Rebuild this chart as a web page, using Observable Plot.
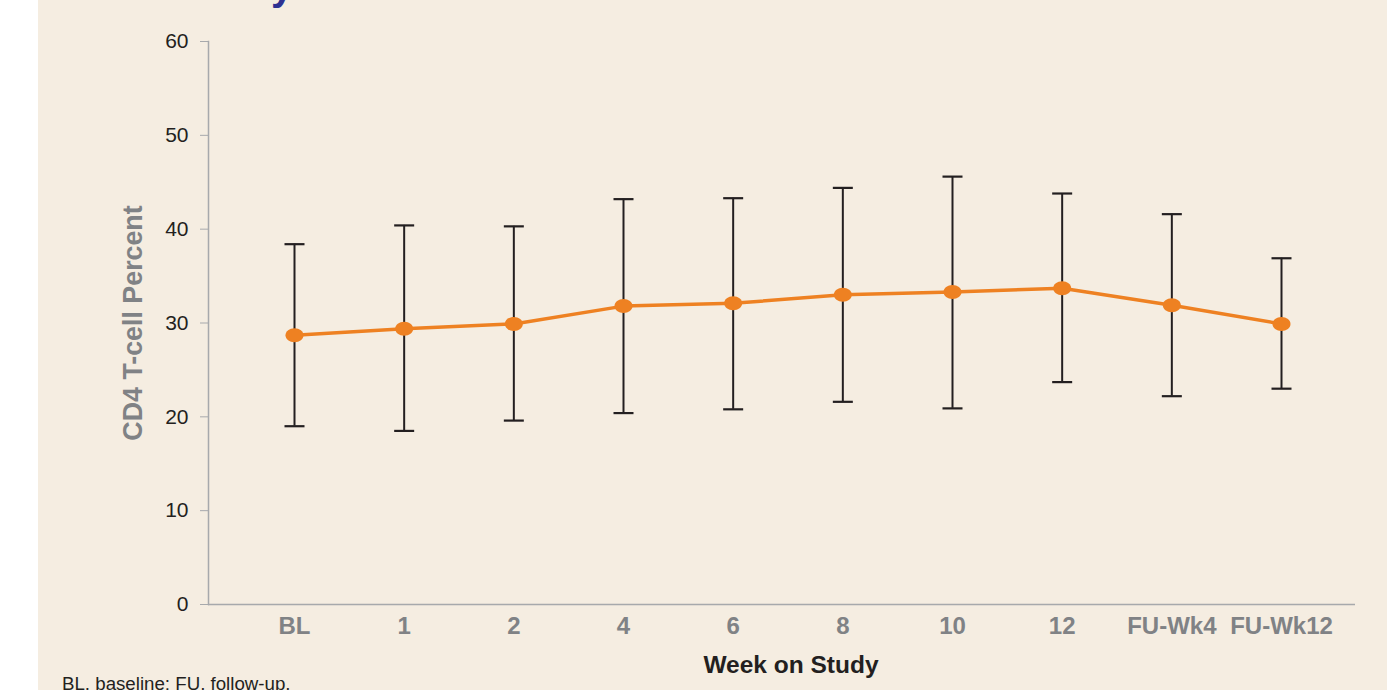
<!DOCTYPE html>
<html>
<head>
<meta charset="utf-8">
<script src="https://cdn.jsdelivr.net/npm/d3@7"></script>
<script src="https://cdn.jsdelivr.net/npm/@observablehq/plot@0.6"></script>
<style>
  html, body { margin: 0; padding: 0; background: #ffffff; overflow: hidden; width: 1387px; height: 690px; }
  #panel { position: absolute; left: 38px; top: 0; width: 1349px; height: 690px; background: #F5EDE1; }
  #title { position: absolute; left: 271px; top: -34px; font: bold 40px "Liberation Sans", Arial, sans-serif; line-height: 40px; color: #2E3192; white-space: nowrap; }
  #chart { position: absolute; left: 0; top: 0; }
  #caption { position: absolute; left: 62px; top: 673px; font: 18.7px "Liberation Sans", Arial, sans-serif; color: #231F20; white-space: nowrap; }
</style>
</head>
<body>
<div id="panel"></div>
<div id="title">y</div>
<div id="chart"></div>
<div id="caption">BL, baseline; FU, follow-up.</div>
<script>
const weeks = ["BL", "1", "2", "4", "6", "8", "10", "12", "FU-Wk4", "FU-Wk12"];
const meanPct = [28.7, 29.4, 29.9, 31.8, 32.1, 33.0, 33.3, 33.7, 31.9, 29.9];
const upperPct = [38.4, 40.4, 40.3, 43.2, 43.3, 44.4, 45.6, 43.8, 41.6, 36.9];
const lowerPct = [19.0, 18.5, 19.6, 20.4, 20.8, 21.6, 20.9, 23.7, 22.2, 23.0];
const yTicks = [0, 10, 20, 30, 40, 50, 60];

const data = weeks.map((w, i) => ({week: w, mean: meanPct[i], upper: upperPct[i], lower: lowerPct[i]}));

const capSymbol = {
  draw(ctx) { ctx.moveTo(-10, 0); ctx.lineTo(10, 0); }
};
const ellipseSymbol = {
  draw(ctx) {
    const a = 9, b = 7, k = 0.5523;
    ctx.moveTo(a, 0);
    ctx.bezierCurveTo(a, b * k, a * k, b, 0, b);
    ctx.bezierCurveTo(-a * k, b, -a, b * k, -a, 0);
    ctx.bezierCurveTo(-a, -b * k, -a * k, -b, 0, -b);
    ctx.bezierCurveTo(a * k, -b, a, -b * k, a, 0);
    ctx.closePath();
  }
};

const font = '"Liberation Sans", Arial, sans-serif';

const chart = Plot.plot({
  width: 1387,
  height: 690,
  marginTop: 41,
  marginBottom: 86,
  marginLeft: 208,
  marginRight: 32,
  style: {background: "transparent", fontFamily: font},
  x: {type: "point", domain: weeks, range: [294, 1281], padding: 0, round: false},
  y: {domain: [0, 60]},
  marks: [
    Plot.frame({anchor: "left", stroke: "#A7A9AC", strokeWidth: 1.5}),
    Plot.ruleY([0], {stroke: "#A7A9AC", strokeWidth: 1.5}),
    Plot.axisY({ticks: yTicks, tickSize: 8, tickPadding: 12, stroke: "#A7A9AC", fill: "#231F20", fontSize: 21, label: null}),
    Plot.axisX({tickSize: 0, tickPadding: 12, fill: "#808285", fontSize: 24, fontWeight: "bold", label: null}),
    Plot.text(["CD4 T-cell Percent"], {frameAnchor: "left", textAnchor: "middle", dx: -75, rotate: -90, fill: "#808285", fontSize: 26.8, fontWeight: "bold"}),
    Plot.text(["Week on Study"], {frameAnchor: "bottom", dx: 9, dy: 68, fill: "#231F20", fontSize: 24.5, fontWeight: "bold"}),
    Plot.ruleX(data, {x: "week", y1: "lower", y2: "upper", stroke: "#231F20", strokeWidth: 2}),
    Plot.dot(data, {x: "week", y: "upper", symbol: capSymbol, stroke: "#231F20", strokeWidth: 2.2, fill: "none"}),
    Plot.dot(data, {x: "week", y: "lower", symbol: capSymbol, stroke: "#231F20", strokeWidth: 2.2, fill: "none"}),
    Plot.line(data, {x: "week", y: "mean", stroke: "#EE8122", strokeWidth: 3.5}),
    Plot.dot(data, {x: "week", y: "mean", symbol: ellipseSymbol, fill: "#EE8122", stroke: "none"})
  ]
});
document.getElementById("chart").appendChild(chart);
</script>
</body>
</html>
